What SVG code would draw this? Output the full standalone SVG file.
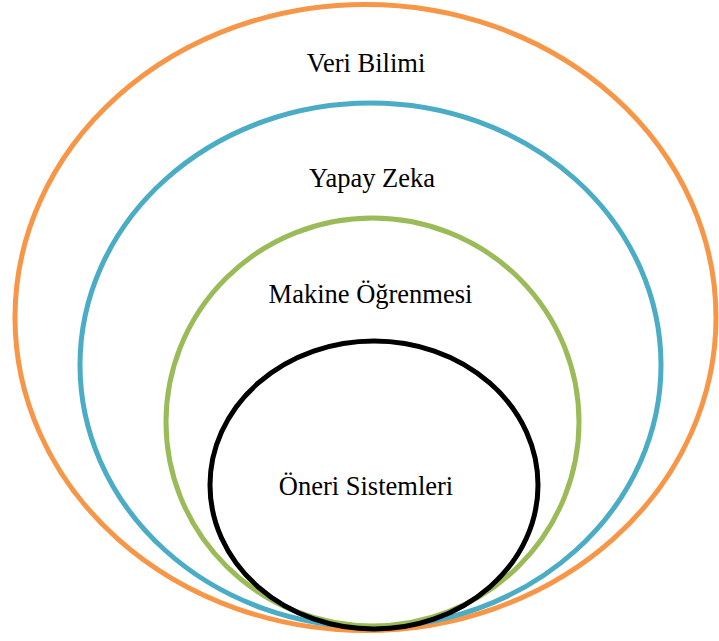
<svg xmlns="http://www.w3.org/2000/svg" width="719" height="641" viewBox="0 0 719 641">
  <style>
    .ring { fill: none; stroke-width: 5; }
    .label { font-family: "Liberation Serif", "Times New Roman", serif; font-size: 26.5px; fill: #000; text-anchor: middle; }
  </style>
  <rect width="719" height="641" fill="#fff"/>
  <g id="veri-bilimi">
    <ellipse class="ring" cx="365.5" cy="317.5" rx="350.5" ry="313" stroke="#F79646"/>
    <text class="label" x="366" y="72">Veri Bilimi</text>
  </g>
  <g id="yapay-zeka">
    <ellipse class="ring" cx="370.5" cy="365" rx="290.5" ry="262" stroke="#4BACC6"/>
    <text class="label" x="372" y="187">Yapay Zeka</text>
  </g>
  <g id="makine-ogrenmesi">
    <ellipse class="ring" cx="372.5" cy="422" rx="206.5" ry="204" stroke="#9BBB59"/>
    <text class="label" x="370.5" y="303">Makine Öğrenmesi</text>
  </g>
  <g id="oneri-sistemleri">
    <ellipse class="ring" cx="374" cy="485" rx="164" ry="144" stroke="#000" stroke-width="5.5"/>
    <text class="label" x="366" y="495">Öneri Sistemleri</text>
  </g>
  <g id="connectors"/>
</svg>
